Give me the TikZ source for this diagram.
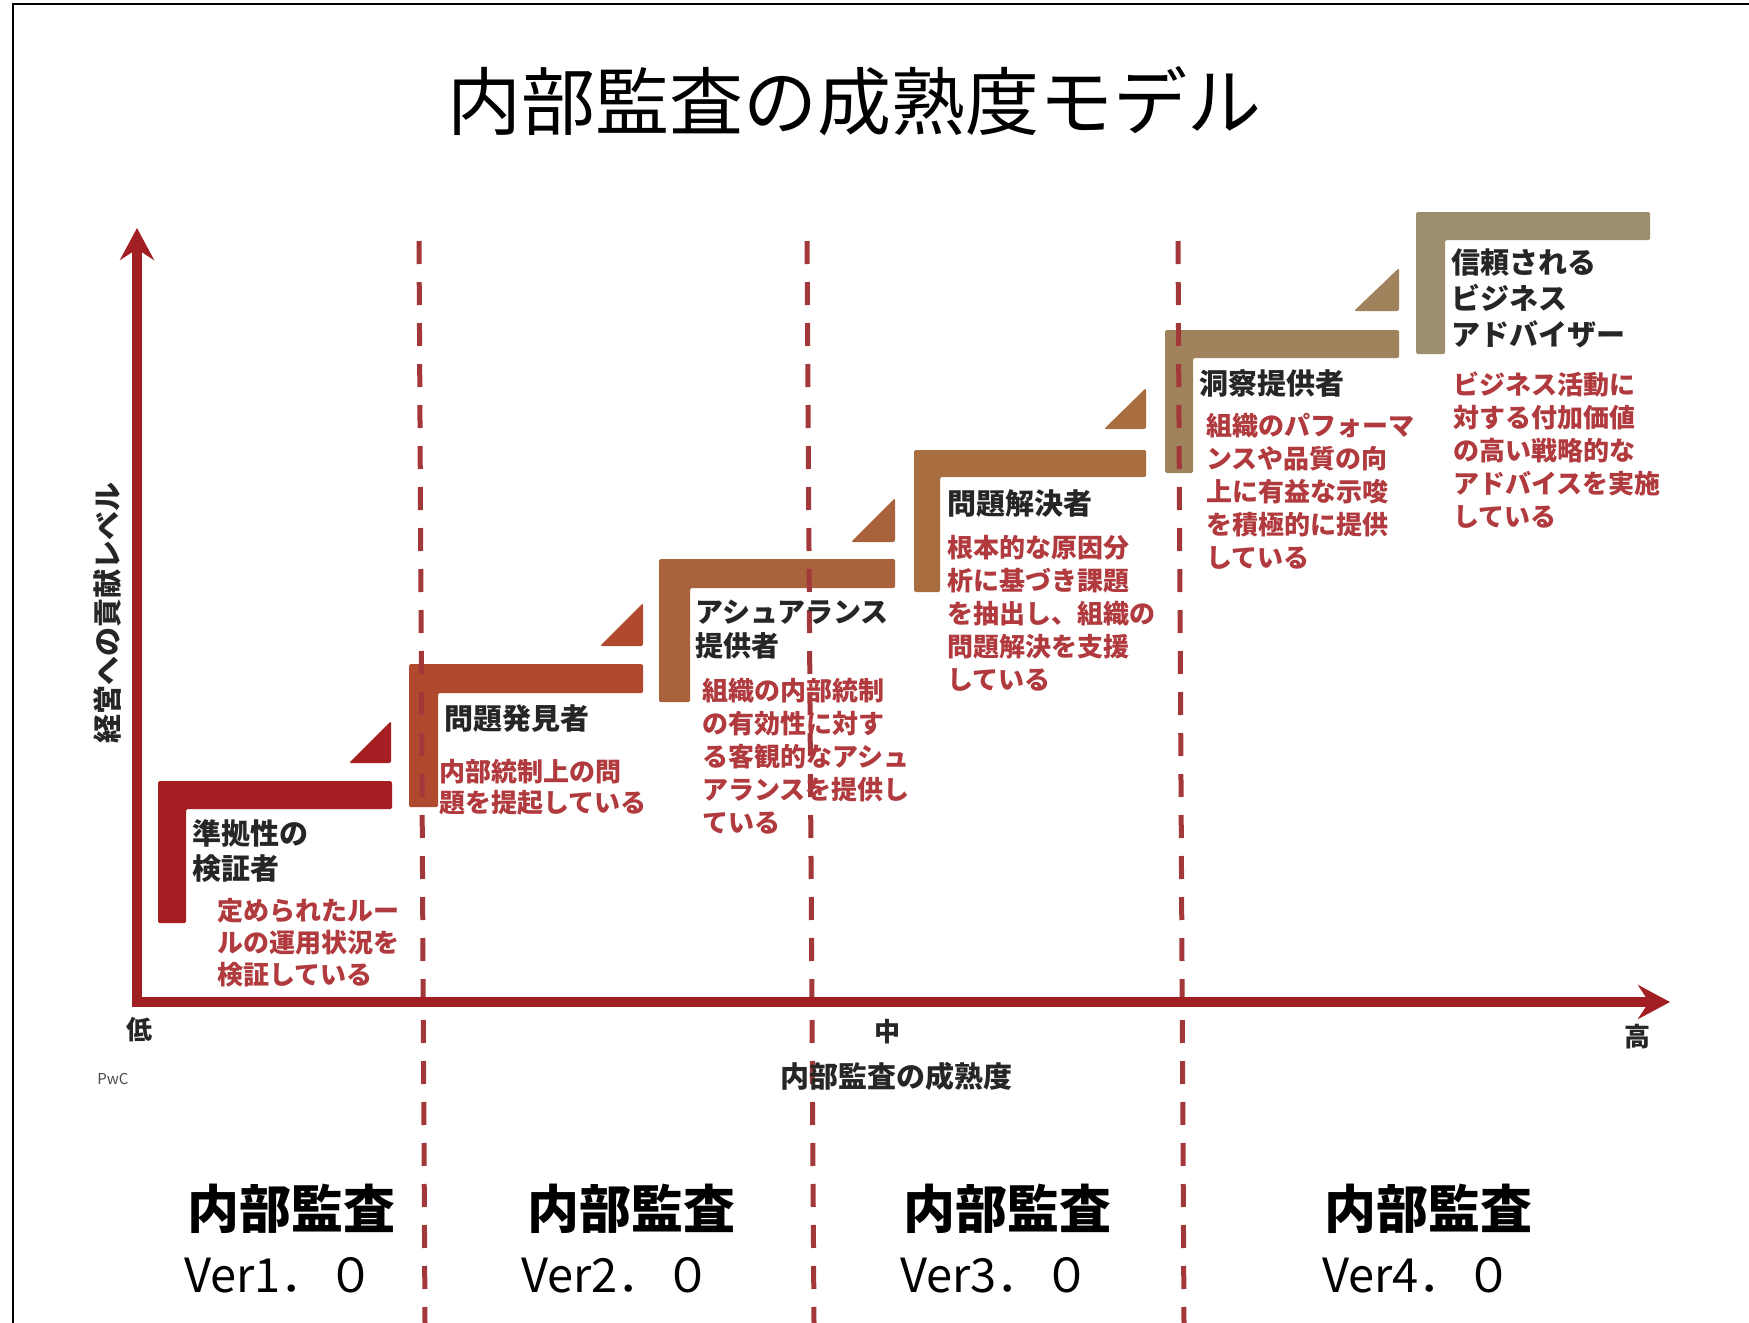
\documentclass[tikz,border=0pt]{standalone}
\usepackage{fontspec}
\setmainfont{Noto Sans CJK JP}
\usetikzlibrary{arrows.meta}
\newcommand{\mylines}[1]{\begin{tabular}[t]{@{}l@{}}#1\end{tabular}}
\definecolor{axisred}{HTML}{A11E22}
\definecolor{dashred}{HTML}{A3383A}
\definecolor{titlegray}{HTML}{262626}
\definecolor{descred}{HTML}{B03A3D}
\definecolor{cA}{HTML}{A41E22}
\definecolor{cB}{HTML}{B1492F}
\definecolor{cC}{HTML}{A9623B}
\definecolor{cD}{HTML}{A86E40}
\definecolor{cE}{HTML}{A0835D}
\definecolor{cF}{HTML}{9D8F6E}
\tikzset{
  steptitle/.style={anchor=base west, inner sep=0pt, text=titlegray, font=\fontsize{29}{34}\selectfont\bfseries},
  stepdesc/.style={anchor=base west, inner sep=0pt, text=descred, font=\fontsize{26}{33}\selectfont\bfseries},
  axislab/.style={inner sep=0pt, text=titlegray, font=\fontsize{26}{26}\selectfont\bfseries},
  verhead/.style={anchor=base west, inner sep=0pt, text=black, font=\fontsize{52}{52}\selectfont\bfseries},
  vernum/.style={anchor=base west, inner sep=0pt, text=black, font=\fontsize{47}{47}\selectfont},
  sepline/.style={draw=dashred, line width=5pt, dash pattern=on 23pt off 18pt},
  stair/.style={rounded corners=1.5pt},
  wedge/.style={rounded corners=2pt},
}
\begin{document}
\begin{tikzpicture}[x=1pt,y=-1pt]
\useasboundingbox (0,0) rectangle (1749,1323);
\fill[white] (0,0) rectangle (1749,1323);
% frame
\draw[black, line width=2.5pt] (13,1323) -- (13,4) -- (1749,4);

% title
\node (title) [anchor=base, inner sep=0pt, font=\fontsize{74}{74}\selectfont] at (854,129) {内部監査の成熟度モデル};

% dashed separators
\coordinate (s1t) at (419,241); \coordinate (s1b) at (425,1323);
\coordinate (s2t) at (807,241); \coordinate (s2b) at (814,1323);
\coordinate (s3t) at (1178,241); \coordinate (s3b) at (1184,1323);

% stairs
\fill[cA, stair] (158,923) -- (158,781) -- (392,781) -- (392,809) -- (186,809) -- (186,923) -- cycle;
\fill[cB, stair] (409,807) -- (409,664) -- (643,664) -- (643,693) -- (438,693) -- (438,807) -- cycle;
\fill[cC, stair] (659,702) -- (659,559) -- (895,559) -- (895,588) -- (690,588) -- (690,702) -- cycle;
\fill[cD, stair] (914,592) -- (914,450) -- (1146,450) -- (1146,477) -- (940,477) -- (940,592) -- cycle;
\fill[cE, stair] (1165,473) -- (1165,330) -- (1399,330) -- (1399,358) -- (1193,358) -- (1193,473) -- cycle;
\fill[cF, stair] (1416,354) -- (1416,212) -- (1650,212) -- (1650,240) -- (1445,240) -- (1445,354) -- cycle;

% wedges
\fill[cA, wedge] (391,721) -- (391,763) -- (349,763) -- cycle;
\fill[cB, wedge] (643,603) -- (643,646) -- (600,646) -- cycle;
\fill[cC, wedge] (895,498) -- (895,542) -- (851,542) -- cycle;
\fill[cD, wedge] (1146,388) -- (1146,429) -- (1104,429) -- cycle;
\fill[cE, wedge] (1399,268) -- (1399,311) -- (1354,311) -- cycle;

% separators on top of stairs
\draw[sepline] (s1t) -- (s1b);
\draw[sepline] (s2t) -- (s2b);
\draw[sepline] (s3t) -- (s3b);

% axes
\coordinate (ytip) at (137,228);
\coordinate (origin) at (137,1002);
\coordinate (xtip) at (1670,1002);
\draw[axisred, line width=10pt, line join=miter,
  arrows={Stealth[length=32pt,width=34pt,inset=11pt]-Stealth[length=32pt,width=34pt,inset=11pt]}]
  (ytip) -- (origin) -- (xtip);

% axis labels
\node (ylab) [axislab, rotate=90, font=\fontsize{29}{29}\selectfont\bfseries] at (107,613) {経営への貢献レベル};
\node (low) [axislab] at (139,1030) {低};
\node (mid) [axislab] at (887,1032) {中};
\node (high) [axislab] at (1637,1037) {高};
\node (xlab) [axislab, font=\fontsize{29}{29}\selectfont\bfseries] at (896,1076) {内部監査の成熟度};
\node (pwc) [inner sep=0pt, text=black!70, font=\fontsize{15}{15}\selectfont] at (113,1079) {PwC};

% step titles
\node (t1) [steptitle] at (192,844) {\mylines{準拠性の\\検証者}};
\node (t2) [steptitle] at (444,729) {問題発見者};
\node (t3) [steptitle, font=\fontsize{28}{34}\selectfont\bfseries] at (695,622) {\mylines{アシュアランス\\提供者}};
\node (t4) [steptitle] at (947,514) {問題解決者};
\node (t5) [steptitle] at (1199,394) {洞察提供者};
\node (t6) [steptitle, font=\fontsize{29}{36}\selectfont\bfseries] at (1451,273) {\mylines{信頼される\\ビジネス\\アドバイザー}};

% step descriptions
\node (d1) [stepdesc, font=\fontsize{26}{32}\selectfont\bfseries] at (217,920) {\mylines{定められたルー\\ルの運用状況を\\検証している}};
\node (d2) [stepdesc, font=\fontsize{26}{31}\selectfont\bfseries] at (439,781) {\mylines{内部統制上の問\\題を提起している}};
\node (d3) [stepdesc] at (702,700) {\mylines{組織の内部統制\\の有効性に対す\\る客観的なアシュ\\アランスを提供し\\ている}};
\node (d4) [stepdesc] at (947,557) {\mylines{根本的な原因分\\析に基づき課題\\を抽出し、組織の\\問題解決を支援\\している}};
\node (d5) [stepdesc] at (1206,435) {\mylines{組織のパフォーマ\\ンスや品質の向\\上に有益な示唆\\を積極的に提供\\している}};
\node (d6) [stepdesc] at (1453,394) {\mylines{ビジネス活動に\\対する付加価値\\の高い戦略的な\\アドバイスを実施\\している}};

% bottom version labels
\node (v1a) [verhead] at (187,1228) {内部監査};
\node (v1b) [vernum] at (184,1292) {Ver1．０};
\node (v2a) [verhead] at (527,1228) {内部監査};
\node (v2b) [vernum] at (521,1292) {Ver2．０};
\node (v3a) [verhead] at (903,1228) {内部監査};
\node (v3b) [vernum] at (900,1292) {Ver3．０};
\node (v4a) [verhead] at (1324,1228) {内部監査};
\node (v4b) [vernum] at (1322,1292) {Ver4．０};
\end{tikzpicture}
\end{document}
